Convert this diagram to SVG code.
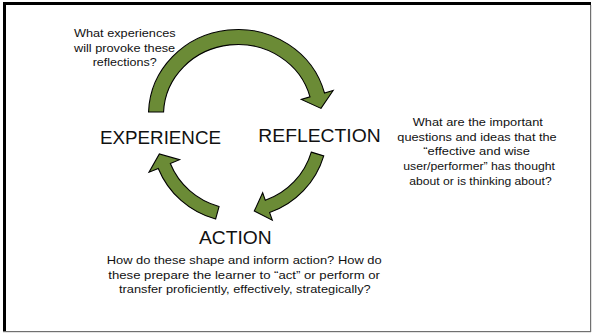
<svg xmlns="http://www.w3.org/2000/svg" width="592" height="333" viewBox="0 0 592 333">
  <style>
    .arrow { fill: #6B8B36; stroke: #000; stroke-width: 1.1; stroke-linejoin: miter; }
    .q { font-family: "Liberation Sans", Arial, sans-serif; font-size: 11px; fill: #111; text-anchor: start; }
    .lbl { font-family: "Liberation Sans", Arial, sans-serif; font-size: 18.6px; fill: #111; }
  </style>

  <!-- slide frame: dark top/left edges, grey right/bottom edges -->
  <g id="frame">
    <rect x="0" y="0" width="592" height="333" fill="#fff"/>
    <rect x="3" y="2" width="588" height="3" fill="#000"/>
    <rect x="3" y="2" width="3" height="330" fill="#000"/>
    <rect x="590" y="5" width="1.2" height="327" fill="#707070"/>
    <rect x="3" y="331" width="588" height="1.2" fill="#707070"/>
  </g>

  <!-- curved cycle arrows -->
  <g id="connectors">
    <path id="arrow-experience-reflection" class="arrow"
      d="M148.55 112 A89.5 85.5 0 0 1 324.49 93.02 L333.13 90.51 L321.01 108.43 L301.35 99.39 L310.0 96.87 A74.5 70.5 0 0 0 163.57 112 Z"/>
    <path id="arrow-reflection-action" class="arrow"
      d="M311.30 152.12 L323.75 155.86 A86.5 86.5 0 0 1 269.64 212.59 L272.30 220.14 L254.28 211.11 L262.66 192.78 L265.32 200.33 A73.5 73.5 0 0 0 311.30 152.12 Z"/>
    <path id="arrow-action-experience" class="arrow"
      d="M219.03 206.53 L215.62 219.07 A86.5 86.5 0 0 1 158.27 168.43 L149.01 172.22 L159.35 153.93 L179.55 159.70 L170.30 163.49 A73.5 73.5 0 0 0 219.03 206.53 Z"/>
  </g>

  <g id="experience">
    <text class="lbl" x="100" y="144" textLength="121" lengthAdjust="spacingAndGlyphs">EXPERIENCE</text>
    <text class="q" x="74" y="36.7" textLength="101.7" lengthAdjust="spacingAndGlyphs">What experiences</text>
    <text class="q" x="74" y="51.5" textLength="101.2" lengthAdjust="spacingAndGlyphs">will provoke these</text>
    <text class="q" x="92.7" y="66.3" textLength="64" lengthAdjust="spacingAndGlyphs">reflections?</text>
  </g>

  <g id="reflection">
    <text class="lbl" x="258.3" y="142" textLength="122.4" lengthAdjust="spacingAndGlyphs">REFLECTION</text>
    <text class="q" x="412.8" y="126.2" textLength="130" lengthAdjust="spacingAndGlyphs">What are the important</text>
    <text class="q" x="397.3" y="140.8" textLength="159.4" lengthAdjust="spacingAndGlyphs">questions and ideas that the</text>
    <text class="q" x="423.3" y="155.4" textLength="106.7" lengthAdjust="spacingAndGlyphs">“effective and wise</text>
    <text class="q" x="403.3" y="170" textLength="151.7" lengthAdjust="spacingAndGlyphs">user/performer” has thought</text>
    <text class="q" x="409.3" y="184.6" textLength="142.4" lengthAdjust="spacingAndGlyphs">about or is thinking about?</text>
  </g>

  <g id="action">
    <text class="lbl" x="199" y="244.3" font-size="19.5" textLength="72.7" lengthAdjust="spacingAndGlyphs">ACTION</text>
    <text class="q" x="106.7" y="264" textLength="275" lengthAdjust="spacingAndGlyphs">How do these shape and inform action? How do</text>
    <text class="q" x="108.3" y="278.6" textLength="271.7" lengthAdjust="spacingAndGlyphs">these prepare the learner to “act” or perform or</text>
    <text class="q" x="119" y="293.2" textLength="251.7" lengthAdjust="spacingAndGlyphs">transfer proficiently, effectively, strategically?</text>
  </g>
</svg>
